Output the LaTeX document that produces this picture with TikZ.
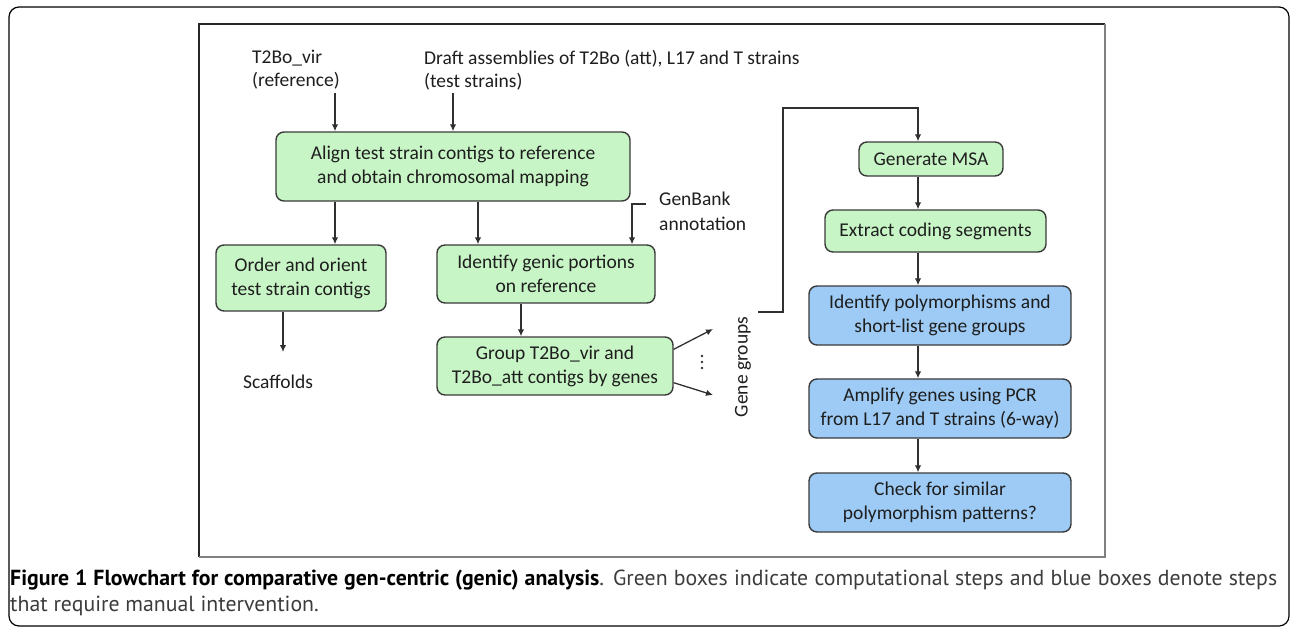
\documentclass[tikz,border=0pt]{standalone}
\usepackage{fontspec}
\setmainfont{Carlito}
\newfontfamily\capfont{PT Sans}
\usetikzlibrary{arrows.meta}
\definecolor{greenfill}{HTML}{C8F5C6}
\definecolor{bluefill}{HTML}{9DCBF5}
\definecolor{boxline}{HTML}{3A3A3A}
\definecolor{lineclr}{HTML}{303030}
\definecolor{txt}{HTML}{1E1E1E}
\definecolor{captxt}{HTML}{3C3C3C}

\begin{document}
\begin{tikzpicture}[x=1pt,y=-1pt,
  stepbox/.style={draw=boxline, line width=1.4pt, rounded corners=8pt, align=center,
    inner sep=0pt, text=txt, font=\fontsize{19.5}{24}\selectfont},
  greenbox/.style={stepbox, fill=greenfill},
  bluebox/.style={stepbox, fill=bluefill},
  lbl/.style={inner sep=0pt, align=left, text=txt, font=\fontsize{19.5}{23}\selectfont},
  arr/.style={draw=lineclr, line width=1.3pt, -{Latex[length=7pt,width=6.5pt]}}]

\useasboundingbox (0,0) rectangle (1290,627);

% outer panel and inner figure frame
\draw[line width=1.2pt, rounded corners=10pt] (9,7) rectangle (1289,626);
\draw[draw=black!85, line width=1.5pt] (199,557) -- (199,24) -- (1105,24);
\draw[draw=black!50, line width=2.5pt] (1105,24) -- (1105,557) -- (199,557);

% column positions of the vertical connectors
\coordinate (a1) at (335,0);
\coordinate (a2) at (453,0);
\coordinate (a3) at (478,0);
\coordinate (a4) at (632,0);
\coordinate (a5) at (283,0);
\coordinate (a6) at (521,0);
\coordinate (col) at (918,0);

% inputs
\node[lbl, anchor=north west] (vir) at (252,50) {T2Bo\_vir\\(reference)};
\node[lbl, anchor=north west] (draft) at (424,50) {Draft assemblies of T2Bo (att), L17 and T strains\\(test strains)};

% computational steps
\node[greenbox, minimum width=354pt, minimum height=69pt] (align) at (453,166.5)
  {Align test strain contigs to reference\\and obtain chromosomal mapping};
\node[greenbox, minimum width=170pt, minimum height=66pt] (order) at (301,278)
  {Order and orient\\test strain contigs};
\node[greenbox, minimum width=218pt, minimum height=58pt] (identify) at (546,274)
  {Identify genic portions\\on reference};
\node[greenbox, minimum width=236pt, minimum height=58pt] (group) at (555,366)
  {Group T2Bo\_vir and\\T2Bo\_att contigs by genes};
\node[greenbox, minimum width=144pt, minimum height=34pt] (msa) at (931,159)
  {Generate MSA};
\node[greenbox, minimum width=221pt, minimum height=42pt] (extract) at (935.5,231)
  {Extract coding segments};

% manual steps
\node[bluebox, minimum width=262pt, minimum height=59pt] (poly) at (940,315.5)
  {Identify polymorphisms and\\short-list gene groups};
\node[bluebox, minimum width=262pt, minimum height=59pt] (amplify) at (940,408.5)
  {Amplify genes using PCR\\from L17 and T strains (6-way)};
\node[bluebox, minimum width=262pt, minimum height=59pt] (check) at (940,502.5)
  {Check for similar\\polymorphism patterns?};

% side labels
\node[lbl, anchor=north west, font=\fontsize{19.5}{25}\selectfont] (genbank) at (659,192)
  {GenBank\\annotation};
\node[lbl] (scaf) at (278,382) {Scaffolds};
\node[lbl, rotate=90] (genegroups) at (743,367) {Gene groups};

% connectors
\draw[arr, shorten <=3pt] (vir.south -| a1) -- (align.north -| a1);
\draw[arr, shorten <=3pt] (draft.south -| a2) -- (align.north -| a2);
\draw[arr] (align.south -| a1) -- (order.north -| a1);
\draw[arr] (align.south -| a3) -- (identify.north -| a3);
\draw[arr] ([xshift=-13pt, yshift=-12pt]genbank.north west) -| (identify.north -| a4);
\coordinate (s1) at (283,352);
\draw[arr] (order.south -| a5) -- (s1);
\draw[arr] (identify.south -| a6) -- (group.north -| a6);

\coordinate (g1) at (713,329);
\coordinate (g2) at (713,395);
\draw[arr] ([yshift=-13pt]group.north east) -- (g1);
\draw[arr] ([yshift=13pt]group.south east) -- (g2);
\foreach \yy in {356,362,368} \fill[lineclr] (702,\yy) circle (1.3pt);

\coordinate (b0) at (758,312);
\draw[arr] (b0) -- (783,312) -- (783,108) -- (918,108) -- (msa.north -| col);
\draw[arr] (msa.south -| col) -- (extract.north -| col);
\draw[arr] (extract.south -| col) -- (poly.north -| col);
\draw[arr] (poly.south -| col) -- (amplify.north -| col);
\draw[arr] (amplify.south -| col) -- (check.north -| col);

% caption
\node[anchor=north west, inner sep=0pt, align=left, text=captxt,
  font=\capfont\fontsize{21.8}{26}\selectfont] (caption) at (10,570)
  {\makebox[1267pt][s]{\textcolor{black}{\textbf{Figure 1 Flowchart for comparative gen-centric (genic) analysis}}. Green boxes indicate computational steps and blue boxes denote steps}\\
   that require manual intervention.};
\end{tikzpicture}
\end{document}
